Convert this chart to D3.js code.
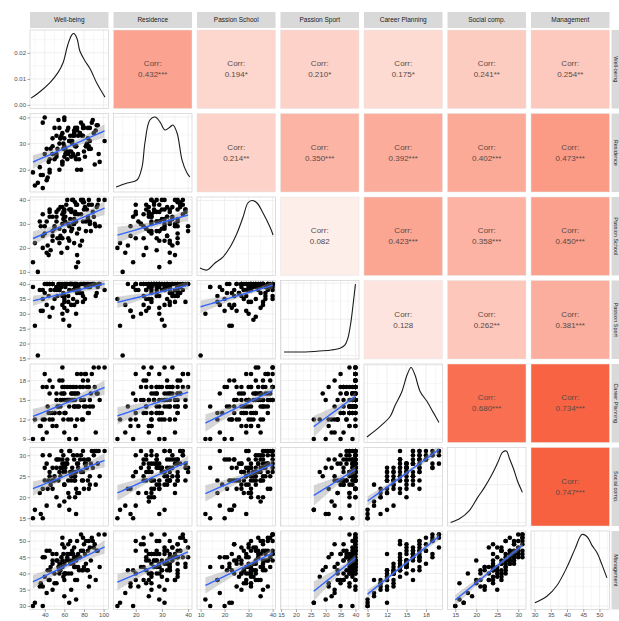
<!DOCTYPE html>
<html><head><meta charset="utf-8">
<script src="https://cdn.jsdelivr.net/npm/d3@7"></script>
<style>body{margin:0;background:#fff}text{font-family:"Liberation Sans",Arial,sans-serif}</style>
</head><body>
<svg id="chart" width="619" height="621"></svg>
<script>
const variables = ["Well-being","Residence","Passion School","Passion Sport","Career Planning","Social comp.","Management"];

const wellBeing = [88,60,95,52,82,101,45,64,90,79,85,40,93,58,77,86,66,55,
74,48,80,69,55,84,71,91,60,76,67,73,87,52,79,65,83,70,58,94,72,63,38,68,81,57,89,42,
69,54,73,61,80,48,66,75,58,86,71,63,77,50,68,82,60,72,56,79,65,74,45,70,62,84,67,59,96,53,
60,45,70,52,85,40,58,73,48,92,55,67,43,59,50,71,46,64,56,38,61,78,
42,35,72,30,48,38,60,33,65,44,36,28];
const residence = [38,40,26,33,29,31,24,36,34,37,28,40,37,23,38,31,33,36,
26,32,36,26,30,32,36,22,39,34,27,20,28,25,36,31,30,34,23,37,29,35,38,31,25,33,39,28,
33,39,36,26,27,29,31,24,34,36,29,24,20,36,30,29,32,24,32,33,27,33,19,35,27,36,25,28,23,28,
29,20,33,26,29,26,22,35,26,35,20,31,17,30,24,25,28,26,32,18,28,33,
16,21,29,14,26,13,25,15,31,23,18,19];
const passionSchool = [38,27,40,35,31,40,36,24,33,39,40,29,37,34,40,30,36,22,
34,25,36,40,28,33,39,30,36,21,35,38,27,33,40,29,36,32,24,38,31,40,34,28,37,18,35,31,
30,36,26,33,39,23,32,28,37,31,35,20,34,29,40,27,33,38,25,31,36,14,33,30,38,32,27,35,29,24,
27,35,22,31,38,26,30,17,33,29,24,36,21,32,28,34,19,30,37,25,31,23,
18,31,12,22,27,20,35,10,23,17,29,14];
const passionSport = [40,40,40,39,40,38,40,36,40,40,39,40,37,40,40,39,40,40,
39,40,40,35,38,40,39,40,34,37,40,40,40,39,36,38,40,40,33,39,40,40,38,40,35,39,40,40,
38,40,37,39,40,32,40,38,36,39,40,31,40,38,40,39,35,38,40,34,40,39,29,38,40,39,40,37,40,36,
36,40,33,38,40,37,30,34,40,36,38,33,40,28,35,40,38,34,39,31,40,37,
33,38,30,26,40,35,32,16,26,36,31,39];
const careerPlanning = [19,17,20,16,19,20,18,15,20,18,17,19,16,20,19,15,17,18,
16,17,14,17,13,18,16,17,15,17,16,19,16,15,17,14,17,16,18,16,17,15,17,16,19,16,14,17,
15,14,16,13,15,12,15,14,17,14,15,17,15,13,15,14,16,14,15,12,15,14,16,14,15,13,15,16,15,14,
13,12,14,11,13,12,15,12,13,10,13,12,14,12,13,11,13,12,14,12,13,12,
10,11,9,12,11,9,10,null,9,13,11,9];
const socialComp = [31,26,31,29,27,31,30,24,30,31,29,27,31,28,30,23,31,29,
28,24,29,30,26,29,25,31,28,29,24,30,28,27,26,31,27,25,29,28,22,28,30,26,28,31,27,28,
26,24,28,26,22,27,26,21,27,25,24,29,26,25,27,28,23,26,27,24,20,27,25,29,28,24,26,30,25,29,
23,26,24,20,22,24,27,21,24,23,18,25,22,26,24,20,23,21,25,22,27,24,
18,21,16,17,22,15,19,null,17,24,16,15];
const management = [51,48,52,46,50,52,47,49,48,51,50,45,47,51,52,48,50,43,
46,44,49,46,41,47,45,49,43,45,46,50,44,44,47,46,41,48,49,47,42,46,45,47,46,45,50,47,
43,42,45,40,42,46,43,41,44,39,42,45,47,40,44,43,38,44,43,41,44,42,41,45,44,41,40,46,42,44,
40,38,42,37,36,39,42,38,43,38,40,35,41,39,37,38,42,40,41,36,40,41,
34,36,32,31,35,30,33,null,31,38,37,30];

const domains = [[25,105],[11.5,41.5],[8.5,41.2],[14.8,41.2],[8.45,20.55],[13.15,31.85],[28.9,53.1]];
const tickValues = [[40,60,80,100],[20,30,40],[10,20,30,40],[15,20,25,30,35,40],[9,12,15,18],[15,20,25,30],[30,35,40,45,50]];
const densityTicks = [0,0.01,0.02];

// densities: [value, density]
const densWellBeing = [[26,0.0026],[33.2,0.0045],[45.4,0.0086],[53.5,0.0124],[58.6,0.0161],[63.7,0.0233],[67.8,0.0270],[69.8,0.0274],[72.9,0.0255],[75.9,0.0206],[81.1,0.0169],[86.2,0.0139],[93.3,0.0082],[98.4,0.0049],[101.4,0.0030]];
const densResidence = [[12.5,0.02],[16.7,0.076],[20.5,0.118],[22.4,0.30],[23.5,0.637],[25.4,0.959],[27.4,1.0],[29.3,0.93],[31.2,0.819],[33.1,0.861],[34.2,0.889],[35.8,0.777],[37.7,0.398],[39.6,0.216],[40.7,0.16]];
const densPassionSchool = [[9.75,0.055],[12.7,0.027],[16,0.125],[19.3,0.209],[22.3,0.349],[25.2,0.545],[27.7,0.77],[29.7,0.966],[31.4,1.0],[33.5,0.966],[36,0.826],[38.9,0.63],[40.2,0.517]];
const densPassionSport = [[16,0.048],[22,0.048],[28,0.062],[32,0.076],[35,0.104],[36.5,0.146],[37.5,0.244],[38.5,0.468],[39.3,0.735],[40,0.987]];
const densCareerPlanning = [[8.9,0.027],[10.9,0.167],[12.5,0.307],[13.2,0.447],[14.3,0.643],[15.1,0.868],[15.7,0.966],[16.3,0.868],[17.1,0.643],[18.2,0.503],[19.1,0.363],[20,0.223]];
const densSocialComp = [[13.9,0.0],[16,0.048],[18.4,0.16],[20.3,0.328],[22,0.468],[23.6,0.622],[25.1,0.79],[26.3,0.93],[27.2,0.945],[27.9,0.847],[28.9,0.707],[29.8,0.552],[31,0.398]];
const densManagement = [[30.1,0.041],[33.8,0.125],[36.9,0.265],[40,0.503],[42.5,0.742],[44.6,0.924],[46.2,0.896],[47.7,0.784],[49.3,0.686],[50.8,0.531],[52.3,0.363]];

const corrPairs = [[0,1],[0,2],[0,3],[0,4],[0,5],[0,6],[1,2],[1,3],[1,4],[1,5],[1,6],[2,3],[2,4],[2,5],[2,6],[3,4],[3,5],[3,6],[4,5],[4,6],[5,6]];
const corrValues = [0.432,0.194,0.210,0.175,0.241,0.254,0.214,0.350,0.392,0.402,0.473,0.082,0.423,0.358,0.450,0.128,0.262,0.381,0.680,0.734,0.747];
const corrStars = ["***","*","*","*","**","**","**","***","***","***","***","","***","***","***","","**","***","***","***","***"];

const series = [wellBeing,residence,passionSchool,passionSport,careerPlanning,socialComp,management];
const densities = [densWellBeing,densResidence,densPassionSchool,densPassionSport,densCareerPlanning,densSocialComp,densManagement];
const N = wellBeing.length;

const L = 30, T = 30, P = 78.5, G = 5, n = variables.length;
const pos = i => L + i*(P+G);
const svg = d3.select("#chart");
const defs = svg.append("defs");

const xS = domains.map((d,j) => d3.scaleLinear().domain(d).range([pos(j), pos(j)+P]));
const yS = domains.map((d,i) => d3.scaleLinear().domain(d).range([pos(i)+P, pos(i)]));
const fillScale = d3.scaleLinear().domain([0,0.75]).range(["#ffffff","#f8603f"]).clamp(true);

const gridCol = "#ebebeb";
function minorOf(t){ const out=[]; for(let k=0;k<t.length-1;k++) out.push((t[k]+t[k+1])/2); if(t.length>1){const st=t[1]-t[0]; out.push(t[0]-st/2); out.push(t[t.length-1]+st/2);} return out; }

function drawGrid(g, xsc, ysc, xt, yt){
  const [x0,x1] = xsc.range(), [y1,y0] = ysc.range();
  const xin = v => v>=xsc.domain()[0] && v<=xsc.domain()[1];
  const yin = v => v>=ysc.domain()[0] && v<=ysc.domain()[1];
  minorOf(xt).filter(xin).forEach(v=>g.append("line").attr("x1",xsc(v)).attr("x2",xsc(v)).attr("y1",y0).attr("y2",y1).attr("stroke",gridCol).attr("stroke-width",0.4));
  minorOf(yt).filter(yin).forEach(v=>g.append("line").attr("y1",ysc(v)).attr("y2",ysc(v)).attr("x1",x0).attr("x2",x1).attr("stroke",gridCol).attr("stroke-width",0.4));
  xt.filter(xin).forEach(v=>g.append("line").attr("x1",xsc(v)).attr("x2",xsc(v)).attr("y1",y0).attr("y2",y1).attr("stroke",gridCol).attr("stroke-width",0.8));
  yt.filter(yin).forEach(v=>g.append("line").attr("y1",ysc(v)).attr("y2",ysc(v)).attr("x1",x0).attr("x2",x1).attr("stroke",gridCol).attr("stroke-width",0.8));
}

for(let i=0;i<n;i++){
  for(let j=0;j<n;j++){
    const x0=pos(j), y0=pos(i);
    const cid = `clip${i}_${j}`;
    defs.append("clipPath").attr("id",cid).append("rect").attr("x",x0).attr("y",y0).attr("width",P).attr("height",P);
    const g = svg.append("g");
    if(i<j){
      const k = corrPairs.findIndex(p=>p[0]===i&&p[1]===j);
      g.append("rect").attr("x",x0).attr("y",y0).attr("width",P).attr("height",P).attr("fill",fillScale(corrValues[k])).attr("stroke","#e6e6e6").attr("stroke-width",0.5);
      const cx = x0+P/2, cy=y0+P/2;
      g.append("text").attr("x",cx).attr("y",cy-5).attr("text-anchor","middle").attr("dominant-baseline","middle").attr("font-size",8).attr("fill","#5a4a45").text("Corr:");
      g.append("text").attr("x",cx).attr("y",cy+6).attr("text-anchor","middle").attr("dominant-baseline","middle").attr("font-size",8).attr("fill","#5a4a45").text(corrValues[k].toFixed(3)+corrStars[k]);
      continue;
    }
    g.append("rect").attr("x",x0).attr("y",y0).attr("width",P).attr("height",P).attr("fill","#fff");
    const inner = g.append("g").attr("clip-path",`url(#${cid})`);
    if(i===j){
      const dens = densities[i];
      const mx = d3.max(dens,d=>d[1]);
      const yD = d3.scaleLinear().domain([-0.05*mx,1.05*mx]).range([y0+P,y0]);
      const yt = i===0 ? densityTicks : yD.ticks(3);
      drawGrid(inner, xS[j], yD, tickValues[j], yt);
      inner.append("path").datum(dens)
        .attr("d", d3.line().x(d=>xS[j](d[0])).y(d=>yD(d[1])).curve(d3.curveCatmullRom.alpha(0.5)))
        .attr("fill","none").attr("stroke","#1a1a1a").attr("stroke-width",1.1);
    } else {
      const xs = xS[j], ys = yS[i];
      drawGrid(inner, xs, ys, tickValues[j], tickValues[i]);
      const idx = d3.range(N).filter(k => series[j][k]!=null && series[i][k]!=null);
      const X = idx.map(k=>series[j][k]), Y = idx.map(k=>series[i][k]), m = idx.length;
      inner.selectAll("circle").data(idx).join("circle")
        .attr("cx",k=>xs(series[j][k])).attr("cy",k=>ys(series[i][k])).attr("r",2.3).attr("fill","#000");
      const mx = d3.mean(X), my = d3.mean(Y);
      let sxx=0, sxy=0; for(let k=0;k<m;k++){sxx+=(X[k]-mx)**2; sxy+=(X[k]-mx)*(Y[k]-my);}
      const b = sxy/sxx, a = my-b*mx;
      let sse=0; for(let k=0;k<m;k++){sse+=(Y[k]-a-b*X[k])**2;}
      const s = Math.sqrt(sse/(m-2)), tq = 1.982;
      const xe = d3.extent(X);
      const pts = d3.range(41).map(t=>{const x=xe[0]+(xe[1]-xe[0])*t/40; const f=a+b*x; const se=s*Math.sqrt(1/m+(x-mx)**2/sxx); return {x, f, lo:f-tq*se, hi:f+tq*se};});
      inner.append("path").datum(pts).attr("d",d3.area().x(d=>xs(d.x)).y0(d=>ys(d.lo)).y1(d=>ys(d.hi))).attr("fill","#999999").attr("fill-opacity",0.4);
      inner.append("path").datum(pts).attr("d",d3.line().x(d=>xs(d.x)).y(d=>ys(d.f))).attr("fill","none").attr("stroke","#3366FF").attr("stroke-width",1.4);
    }
    g.append("rect").attr("x",x0).attr("y",y0).attr("width",P).attr("height",P).attr("fill","none").attr("stroke","#c8c8c8").attr("stroke-width",0.6);
  }
}

// top strips
variables.forEach((v,j)=>{
  svg.append("rect").attr("x",pos(j)).attr("y",12).attr("width",P).attr("height",16).attr("fill","#d9d9d9");
  svg.append("text").attr("x",pos(j)+P/2).attr("y",20.5).attr("text-anchor","middle").attr("dominant-baseline","middle").attr("font-size",6.5).attr("fill","#1a1a1a").text(v);
});
// right strips (narrow, at the window edge)
variables.forEach((v,i)=>{
  const xr = pos(n-1)+P+2;
  svg.append("rect").attr("x",xr).attr("y",pos(i)).attr("width",8).attr("height",P).attr("fill","#d9d9d9");
  svg.append("text").attr("transform",`translate(${xr+4},${pos(i)+P/2}) rotate(90)`).attr("text-anchor","middle").attr("dominant-baseline","middle").attr("font-size",5.5).attr("fill","#1a1a1a").text(v);
});

// left axes
const axisCol = "#4d4d4d";
for(let i=0;i<n;i++){
  let sc, tv, fmt;
  if(i===0){
    const mx = d3.max(densities[0],d=>d[1]);
    sc = d3.scaleLinear().domain([-0.05*mx,1.05*mx]).range([pos(0)+P,pos(0)]);
    tv = densityTicks; fmt = d3.format(".2f");
  } else { sc = yS[i]; tv = tickValues[i]; fmt = d3.format("d"); }
  const ax = d3.axisLeft(sc).tickValues(tv).tickFormat(fmt).tickSize(2.5).tickPadding(1.5);
  const ga = svg.append("g").attr("transform",`translate(${L},0)`).call(ax);
  ga.select(".domain").remove();
  ga.selectAll("line").attr("stroke","#444").attr("stroke-width",0.5);
  ga.selectAll("text").attr("font-size",6).attr("fill",axisCol).attr("font-family","Liberation Sans, Arial, sans-serif");
}
// bottom axes
for(let j=0;j<n;j++){
  const ax = d3.axisBottom(xS[j]).tickValues(tickValues[j]).tickFormat(d3.format("d")).tickSize(2.5).tickPadding(1);
  const ga = svg.append("g").attr("transform",`translate(0,${pos(n-1)+P})`).call(ax);
  ga.select(".domain").remove();
  ga.selectAll("line").attr("stroke","#444").attr("stroke-width",0.5);
  ga.selectAll("text").attr("font-size",6).attr("fill",axisCol).attr("font-family","Liberation Sans, Arial, sans-serif");
}
</script>
</body></html>
